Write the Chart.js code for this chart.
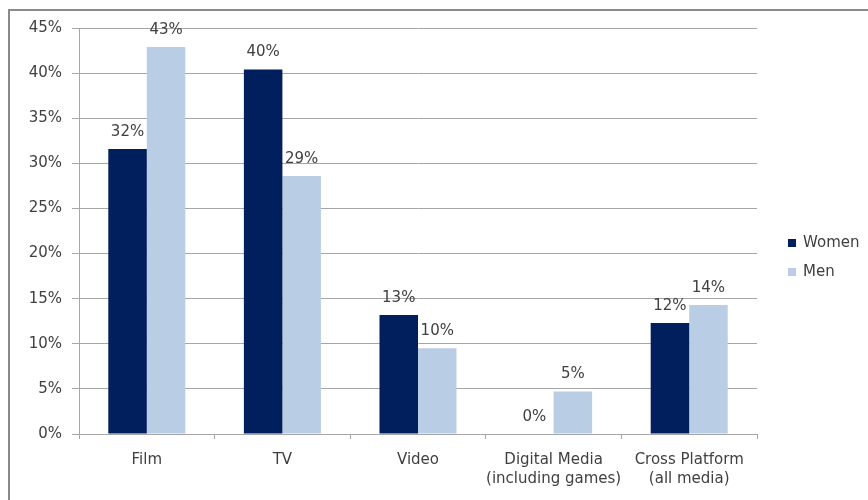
<!DOCTYPE html>
<html>
<head>
<meta charset="utf-8">
<script src="https://cdn.jsdelivr.net/npm/chart.js@4/dist/chart.umd.min.js"></script>
<style>
  html, body { margin: 0; padding: 0; background: #ffffff; }
  #wrap { width: 868px; height: 500px; }
</style>
</head>
<body>
<div id="wrap"><canvas id="c" width="868" height="500"></canvas></div>
<script>
// Share of each media category, by gender
const categories = ['Film', 'TV', 'Video', ['Digital Media', '(including games)'], ['Cross Platform', '(all media)']];
const women = [31.6, 40.4, 13.2, 0, 12.3];
const men = [42.9, 28.6, 9.5, 4.7, 14.3];
const seriesNames = ['Women', 'Men'];
const seriesColors = ['#001f5c', '#b9cde4'];

const FONT = 'DejaVu Sans';
const FONT_SIZE = 15;
const TEXT = '#404040';

// grey frame along the top and left edges
const framePlugin = {
  id: 'frame',
  beforeDraw(chart) {
    const ctx = chart.ctx;
    ctx.save();
    ctx.fillStyle = '#ffffff';
    ctx.fillRect(0, 0, chart.width, chart.height);
    ctx.strokeStyle = '#8a8a8a';
    ctx.lineWidth = 2;
    ctx.beginPath();
    ctx.moveTo(9, chart.height);
    ctx.lineTo(9, 10);
    ctx.lineTo(chart.width, 10);
    ctx.stroke();
    ctx.restore();
  }
};

// percentage labels above each bar
const valueLabels = {
  id: 'valueLabels',
  afterDatasetsDraw(chart) {
    const ctx = chart.ctx;
    ctx.save();
    ctx.font = FONT_SIZE + 'px "' + FONT + '"';
    ctx.fillStyle = TEXT;
    ctx.textAlign = 'center';
    ctx.textBaseline = 'middle';
    chart.data.datasets.forEach((ds, i) => {
      chart.getDatasetMeta(i).data.forEach((bar, j) => {
        ctx.fillText(Math.round(ds.data[j]) + '%', bar.x, bar.y - 17);
      });
    });
    ctx.restore();
  }
};

// legend on the right
const sideLegend = {
  id: 'sideLegend',
  afterDraw(chart) {
    const ctx = chart.ctx;
    ctx.save();
    ctx.font = FONT_SIZE + 'px "' + FONT + '"';
    ctx.textBaseline = 'middle';
    chart.data.datasets.forEach((ds, i) => {
      const y = 243 + i * 29;
      ctx.fillStyle = ds.backgroundColor;
      ctx.fillRect(788, y - 4, 8, 8);
      ctx.fillStyle = TEXT;
      ctx.textAlign = 'left';
      ctx.fillText(ds.label, 803, y);
    });
    ctx.restore();
  }
};

new Chart(document.getElementById('c'), {
  type: 'bar',
  data: {
    labels: categories,
    datasets: [
      { label: seriesNames[0], data: women, backgroundColor: seriesColors[0] },
      { label: seriesNames[1], data: men, backgroundColor: seriesColors[1] }
    ]
  },
  options: {
    responsive: false,
    animation: false,
    devicePixelRatio: 1,
    layout: { padding: { top: 28, right: 111, left: 0, bottom: 0 } },
    datasets: { bar: { categoryPercentage: 0.568, barPercentage: 1.0 } },
    plugins: {
      legend: { display: false },
      tooltip: { enabled: false }
    },
    scales: {
      x: {
        afterFit(scale) { scale.height = 66; },
        grid: {
          offset: true,
          drawOnChartArea: false,
          drawTicks: true,
          tickLength: 5,
          color: '#a6a6a6'
        },
        border: { color: '#a6a6a6', width: 1 },
        ticks: {
          font: { family: FONT, size: FONT_SIZE, lineHeight: 1.27 },
          color: TEXT,
          padding: 12,
          maxRotation: 0,
          autoSkip: false
        }
      },
      y: {
        min: 0,
        max: 45,
        afterFit(scale) { scale.width = 79; },
        grid: {
          color: '#a6a6a6',
          tickLength: 7,
          drawTicks: true
        },
        border: { color: '#a6a6a6', width: 1 },
        ticks: {
          stepSize: 5,
          padding: 10,
          font: { family: FONT, size: FONT_SIZE },
          color: TEXT,
          callback: v => v + '%'
        }
      }
    }
  },
  plugins: [framePlugin, valueLabels, sideLegend]
});
</script>
</body>
</html>
